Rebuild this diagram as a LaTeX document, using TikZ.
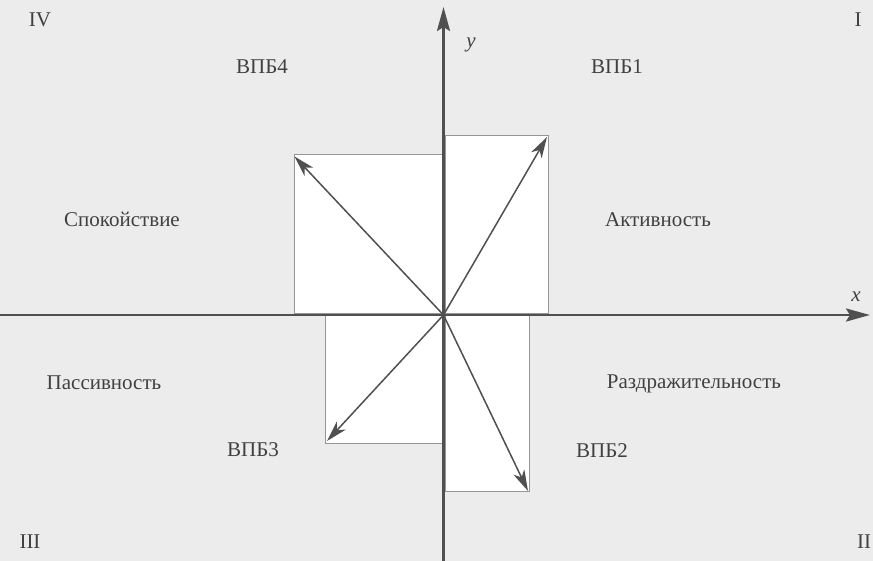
\documentclass[tikz,border=0pt]{standalone}
\usepackage{fontspec}
\setmainfont{Liberation Serif}
\usetikzlibrary{arrows.meta}
\definecolor{bg}{RGB}{236,236,236}
\definecolor{ax}{RGB}{80,80,80}
\definecolor{rectline}{RGB}{150,150,150}
\tikzset{
  lbl/.style={font=\fontsize{21}{23}\selectfont, text=black!75, inner sep=0pt},
  zone/.style={draw=rectline, fill=white, line width=1pt},
  axis/.style={draw=ax, line width=2.8pt, -{Stealth[length=24pt,width=13pt,inset=4pt]}},
  vec/.style={draw=ax, line width=1.5pt, -{Stealth[length=21pt,width=12pt,inset=6pt]}}
}
\begin{document}
\begin{tikzpicture}[x=1pt,y=-1pt]
\fill[bg] (0,0) rectangle (873,561);
\useasboundingbox (0,0) rectangle (873,561);
% zones
\path[zone] (445.5,136) rectangle (548,314);
\path[zone] (294,154.5) rectangle (443,314);
\path[zone] (325.5,316) rectangle (443,443);
\path[zone] (445.5,316) rectangle (529,491.5);
\coordinate (O) at (443.5,315);
\coordinate (xs) at (0,315);
\coordinate (xe) at (870,315);
\coordinate (ys) at (443.5,561);
\coordinate (ye) at (443.5,7);
\coordinate (v1) at (547,137);
\coordinate (v4) at (294.5,156.5);
\coordinate (v3) at (327,441);
\coordinate (v2) at (528,491);
\draw[axis] (xs) -- (xe);
\draw[axis] (ys) -- (ye);
\draw[vec] (O) -- (v1);
\draw[vec] (O) -- (v4);
\draw[vec] (O) -- (v3);
\draw[vec] (O) -- (v2);
% labels
\node[lbl] (ylab) at (471,45) {\itshape y};
\node[lbl] (xlab) at (856,297) {\itshape x};
\node[lbl] (q4) at (40,20) {IV};
\node[lbl] (q1) at (858,20) {I};
\node[lbl] (q3) at (30,542) {III};
\node[lbl] (q2) at (864,542) {II};
\node[lbl] (b4) at (262,67) {ВПБ4};
\node[lbl] (b1) at (617,67) {ВПБ1};
\node[lbl] (b3) at (253,450) {ВПБ3};
\node[lbl] (b2) at (602,451) {ВПБ2};
\node[lbl] (t4) at (122,219) {Спокойствие};
\node[lbl] (t1) at (658,220) {Активность};
\node[lbl] (t3) at (104,383) {Пассивность};
\node[lbl] (t2) at (694,384) {Раздражительность};
\end{tikzpicture}
\end{document}
